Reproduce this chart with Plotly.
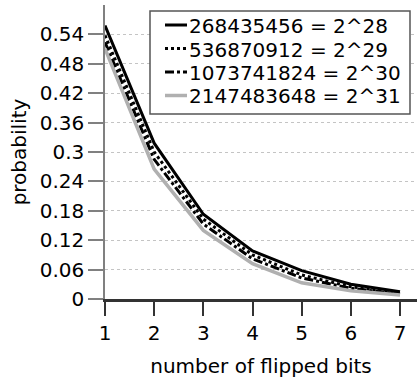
import plotly.graph_objects as go

# number of flipped bits on the x axis
bits = [1, 2, 3, 4, 5, 6, 7]

# probability per flip count for each space size
p_2_28 = [0.558, 0.318, 0.173, 0.098, 0.058, 0.030, 0.015]
p_2_29 = [0.538, 0.300, 0.163, 0.090, 0.049, 0.025, 0.012]
p_2_30 = [0.524, 0.285, 0.153, 0.082, 0.043, 0.022, 0.010]
p_2_31 = [0.511, 0.265, 0.140, 0.072, 0.033, 0.017, 0.008]

series_names = [
    "268435456 = 2^28",
    "536870912 = 2^29",
    "1073741824 = 2^30",
    "2147483648 = 2^31",
]
series_values = [p_2_28, p_2_29, p_2_30, p_2_31]

y_ticks = [0, 0.06, 0.12, 0.18, 0.24, 0.3, 0.36, 0.42, 0.48, 0.54]
y_tick_text = ["0", "0.06", "0.12", "0.18", "0.24", "0.3", "0.36", "0.42", "0.48", "0.54"]

styles = [
    dict(color="#000000", width=3, dash="solid"),
    dict(color="#000000", width=3, dash="dot"),
    dict(color="#000000", width=3, dash="9px,3px,3px,3px"),
    dict(color="#b0b0b0", width=3.5, dash="solid"),
]

FONT = "DejaVu Sans"
W, H = 417, 387
ML, MR, MT, MB = 105, 0, 5, 88
PW, PH = W - ML - MR, H - MT - MB


def px_x(x):
    return (x - ML) / PW


def px_y(y):
    return (H - MB - y) / PH


fig = go.Figure()
for name, vals, st in zip(series_names, series_values, styles):
    fig.add_trace(go.Scatter(x=bits, y=vals, mode="lines", name=name,
                             line=st, showlegend=False))

# legend box drawn by hand: short line samples and tight rows
shapes = [dict(type="rect", xref="paper", yref="paper",
               x0=px_x(150), x1=px_x(410), y0=px_y(114), y1=px_y(11),
               line=dict(color="#555555", width=1.5), fillcolor="white",
               layer="above")]
annotations = []
row_y = [26, 49.5, 73, 96.5]
for name, st, ry in zip(series_names, styles, row_y):
    shapes.append(dict(type="line", xref="paper", yref="paper",
                       x0=px_x(165), x1=px_x(187), y0=px_y(ry - 1), y1=px_y(ry - 1),
                       line=st, layer="above"))
    annotations.append(dict(text=name, xref="paper", yref="paper",
                            x=px_x(187), y=px_y(ry), xanchor="left", yanchor="middle",
                            showarrow=False, font=dict(family=FONT, size=20, color="black")))

fig.update_layout(
    width=W, height=H,
    margin=dict(l=ML, r=MR, t=MT, b=MB, pad=0),
    paper_bgcolor="white", plot_bgcolor="white",
    font=dict(family=FONT, size=20, color="black"),
    shapes=shapes, annotations=annotations,
    xaxis=dict(
        range=[1, 1 + PW / 49.17], tickvals=bits, ticks="outside", ticklen=14,
        tickcolor="#333333", tickwidth=1.5, showline=True, linecolor="#333333",
        linewidth=2.5, showgrid=False, zeroline=False,
        tickfont=dict(family=FONT, size=20, color="black"),
        title=dict(text="number of flipped bits", standoff=16,
                   font=dict(family=FONT, size=20, color="black")),
    ),
    yaxis=dict(
        range=[0, 0.6], tickvals=y_ticks, ticktext=y_tick_text, ticks="outside",
        ticklen=15, tickcolor="#808080", tickwidth=1.5, showline=True,
        linecolor="#808080", linewidth=1.5, showgrid=True, gridcolor="#c4c4c4",
        griddash="3px,3px", gridwidth=1, zeroline=False,
        tickfont=dict(family=FONT, size=20, color="black"),
        title=dict(text="probability", standoff=8,
                   font=dict(family=FONT, size=20, color="black")),
    ),
)

fig.write_html("out.html")
